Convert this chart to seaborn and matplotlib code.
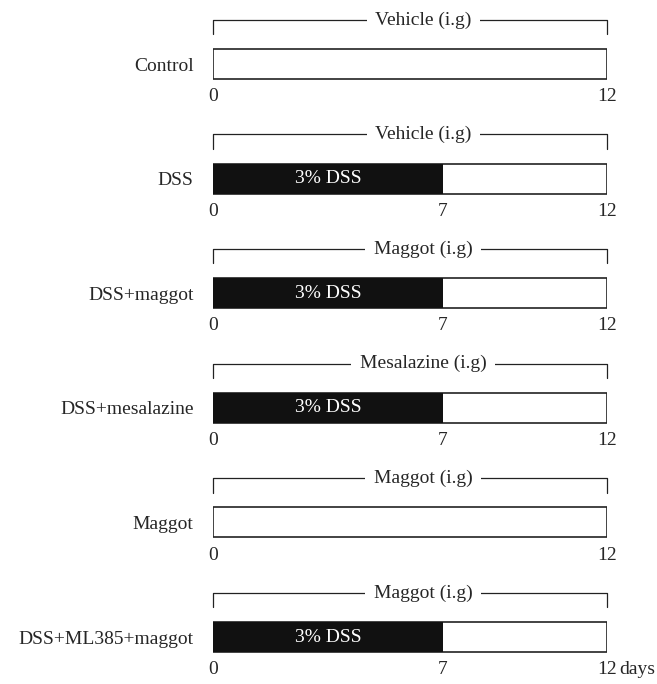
import matplotlib
matplotlib.use("Agg")
import matplotlib.pyplot as plt
import pandas as pd
import seaborn as sns

# ─── data ───────────────────────────────────────────────────────────────────
groups = ["Control", "DSS", "DSS+maggot", "DSS+mesalazine", "Maggot", "DSS+ML385+maggot"]
treatments = ["Vehicle (i.g)", "Vehicle (i.g)", "Maggot (i.g)",
              "Mesalazine (i.g)", "Maggot (i.g)", "Maggot (i.g)"]
total_days = [12, 12, 12, 12, 12, 12]
dss_days = [0, 7, 7, 7, 0, 7]

df = pd.DataFrame({"group": groups, "total": total_days, "dss": dss_days})

sns.set_theme(style="white")
plt.rcParams["font.family"] = ["Liberation Serif", "DejaVu Serif"]
FS = 14

W, H = 657, 684
ROW_PX = 114.6
TOP_PX = 64
fig = plt.figure(figsize=(W / 100, H / 100), dpi=100)
x0, x12 = 213, 607
ax = fig.add_axes([x0 / W, 0, (x12 - x0) / W, 1])

BAR_H = 30 / ROW_PX
sns.barplot(data=df, x="total", y="group", orient="h", color="white",
            edgecolor="#222222", linewidth=1.2, width=BAR_H, ax=ax, saturation=1)
sns.barplot(data=df, x="dss", y="group", orient="h", color="#111111",
            linewidth=0, width=BAR_H, ax=ax, saturation=1)

ax.set_xlim(0, 12)
ax.set_ylim((H - TOP_PX) / ROW_PX, -TOP_PX / ROW_PX)
ax.set_xlabel(""); ax.set_ylabel("")
ax.set_xticks([])
ax.tick_params(axis="y", length=0, pad=14, labelsize=FS)
for s in ax.spines.values():
    s.set_visible(False)

for i, (tr, tot, d) in enumerate(zip(treatments, total_days, dss_days)):
    yb, ye = i - 0.385, i - 0.26
    ax.plot([0, 0, tot, tot], [ye, yb, yb, ye], color="#222222", lw=0.9,
            clip_on=False, zorder=1)
    ax.text(6.4, yb, tr, ha="center", va="center", fontsize=FS, zorder=3,
            bbox=dict(facecolor="white", edgecolor="none", pad=6))
    ty = i + 0.285
    ax.text(0, ty, "0", ha="center", va="center", fontsize=FS)
    if d > 0:
        ax.text(d, ty, str(d), ha="center", va="center", fontsize=FS)
        ax.text(d / 2, i, "3% DSS", ha="center", va="center",
                fontsize=FS, color="white")
    ax.text(tot, ty, "12", ha="center", va="center", fontsize=FS)
    if i == len(groups) - 1:
        ax.annotate("days", xy=(tot, ty), xytext=(9, 0),
                    textcoords="offset points", ha="left", va="center",
                    fontsize=FS, annotation_clip=False)

fig.savefig("out.png", dpi=100)
